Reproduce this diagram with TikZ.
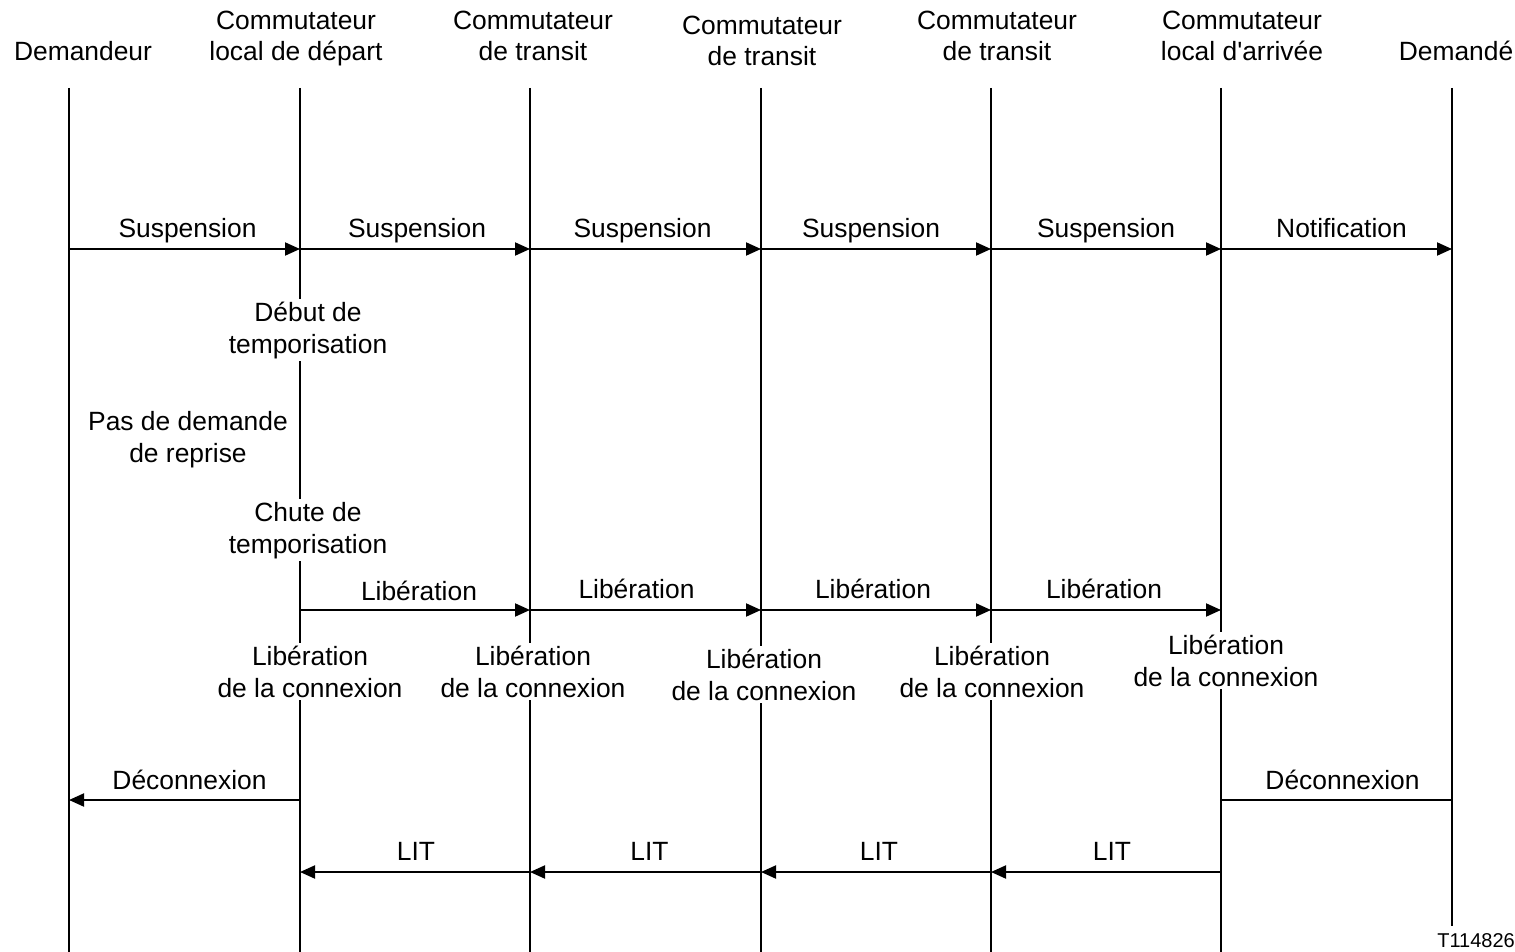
\documentclass[tikz,border=0pt]{standalone}
\usepackage{fontspec}
\setmainfont{Liberation Sans}[Ligatures=TeXOff]
\usetikzlibrary{arrows.meta}
\begin{document}
\begin{tikzpicture}[x=1pt,y=-1pt,
  txt/.style={font=\fontsize{26.4}{31.6}\selectfont, inner sep=0pt, align=center, anchor=base},
  cut/.style={txt, fill=white, inner ysep=3pt},
  life/.style={line width=2pt},
  msg/.style={line width=2pt, -{Triangle[length=15pt,width=13pt]}},
  plain/.style={line width=2pt}]
\useasboundingbox (0,0) rectangle (1515,952);

% lifelines: name / x position / bottom end
\foreach \n/\x/\b in {A/69/952, B/300/952, C/530/952, D/761/952, E/991/952, F/1221/952, G/1452/926}{
  \coordinate (\n-top) at (\x,88);
  \coordinate (\n-bot) at (\x,\b);
  \coordinate (\n-s) at (\x,249);
  \coordinate (\n-l) at (\x,610);
  \coordinate (\n-d) at (\x,800);
  \coordinate (\n-t) at (\x,872);
}
\foreach \n in {A,B,C,D,E,F,G}{ \draw[life] (\n-top) -- (\n-bot); }

% headings (base = baseline of the last line)
\node[txt] (hA) at (83,61) {Demandeur};
\node[txt] (hB) at (296,61) {Commutateur\\local de départ};
\node[txt] (hC) at (533,61) {Commutateur\\de transit};
\node[txt] (hD) at (762,66) {Commutateur\\de transit};
\node[txt] (hE) at (997,61) {Commutateur\\de transit};
\node[txt] (hF) at (1242,61) {Commutateur\\local d'arrivée};
\node[txt] (hG) at (1456,61) {Demandé};

% suspension / notification
\draw[msg] (A-s) -- (B-s) node[txt, midway, yshift=12pt, xshift=3pt] (s1) {Suspension};
\draw[msg] (B-s) -- (C-s) node[txt, midway, yshift=12pt, xshift=2pt] (s2) {Suspension};
\draw[msg] (C-s) -- (D-s) node[txt, midway, yshift=12pt, xshift=-3pt] (s3) {Suspension};
\draw[msg] (D-s) -- (E-s) node[txt, midway, yshift=12pt, xshift=-5pt] (s4) {Suspension};
\draw[msg] (E-s) -- (F-s) node[txt, midway, yshift=12pt] (s5) {Suspension};
\draw[msg] (F-s) -- (G-s) node[txt, midway, yshift=12pt, xshift=5pt] (s6) {Notification};

% timer events at the originating exchange
\node[cut] (tstart) at (308,353) {Début de\\temporisation};
\node[txt] (norec) at (188,462) {Pas de demande\\de reprise};
\node[cut] (tend) at (308,553) {Chute de\\temporisation};

% release
\draw[msg] (B-l) -- (C-l) node[txt, midway, yshift=10pt, xshift=4pt] (l1) {Libération};
\draw[msg] (C-l) -- (D-l) node[txt, midway, yshift=12pt, xshift=-9pt] (l2) {Libération};
\draw[msg] (D-l) -- (E-l) node[txt, midway, yshift=12pt, xshift=-3pt] (l3) {Libération};
\draw[msg] (E-l) -- (F-l) node[txt, midway, yshift=12pt, xshift=-2pt] (l4) {Libération};

\node[cut] (cB) at (310,697) {Libération\\de la connexion};
\node[cut] (cC) at (533,697) {Libération\\de la connexion};
\node[cut] (cD) at (764,700) {Libération\\de la connexion};
\node[cut] (cE) at (992,697) {Libération\\de la connexion};
\node[cut] (cF) at (1226,686) {Libération\\de la connexion};

% disconnection
\draw[msg] (B-d) -- (A-d) node[txt, midway, yshift=11pt, xshift=5pt] (d1) {Déconnexion};
\draw[plain] (G-d) -- (F-d) node[txt, midway, yshift=11pt, xshift=6pt] (d2) {Déconnexion};

% release complete
\draw[msg] (C-t) -- (B-t) node[txt, midway, yshift=12pt, xshift=1pt] (r1) {LIT};
\draw[msg] (D-t) -- (C-t) node[txt, midway, yshift=12pt, xshift=4pt] (r2) {LIT};
\draw[msg] (E-t) -- (D-t) node[txt, midway, yshift=12pt, xshift=3pt] (r3) {LIT};
\draw[msg] (F-t) -- (E-t) node[txt, midway, yshift=12pt, xshift=6pt] (r4) {LIT};

\node[font=\fontsize{20}{24}\selectfont, inner sep=0pt, anchor=base east] (ref) at (1515,947) {T114826};
\end{tikzpicture}
\end{document}
